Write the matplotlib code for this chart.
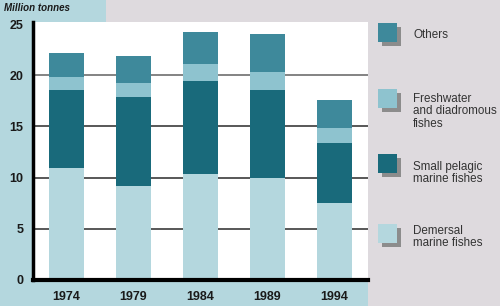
import numpy as np
import matplotlib.pyplot as plt
from matplotlib.patches import Rectangle

# --- DATA (million tonnes) ---
years = ["1974", "1979", "1984", "1989", "1994"]
demersal = [10.9, 9.2, 10.35, 10.0, 7.55]
pelagic = [7.7, 8.7, 9.1, 8.6, 5.85]
freshwater = [1.25, 1.3, 1.65, 1.7, 1.4]
others = [2.35, 2.7, 3.1, 3.7, 2.8]

series = [demersal, pelagic, freshwater, others]
labels = ["Demersal\nmarine fishes", "Small pelagic\nmarine fishes",
          "Freshwater\nand diadromous\nfishes", "Others"]
colors = ["#b4d7de", "#196a7b", "#8ec3cf", "#3e899b"]

light_blue = "#b4d7de"
grey_bg = "#dedade"

plt.rcParams['font.family'] = ['Liberation Sans', 'DejaVu Sans']

fig = plt.figure(figsize=(5.0, 3.06), dpi=100)
fig.patch.set_facecolor(grey_bg)

W, H = 500, 306
def fr(x0, y0, x1, y1, c, z=-1):
    # rectangle in pixel coords (origin top-left)
    fig.patches.append(Rectangle((x0 / W, 1 - y1 / H), (x1 - x0) / W, (y1 - y0) / H,
                                 transform=fig.transFigure, facecolor=c,
                                 edgecolor='none', zorder=z))

fr(0, 0, 106, 22, light_blue)
fr(0, 0, 33, 306, light_blue)
fr(0, 280, 368, 306, light_blue)

ax = fig.add_axes([33 / W, 1 - 280 / H, 335 / W, 258 / H])
ax.set_facecolor("white")

x = np.arange(len(years))
bottom = np.zeros(len(years))
for vals, c in zip(series, colors):
    ax.bar(x, vals, width=0.51, bottom=bottom, color=c, zorder=3)
    bottom += np.array(vals)

ax.set_xlim(-0.5, 4.5)
ax.set_ylim(0, 25.2)
ax.set_yticks([0, 5, 10, 15, 20, 25])
for yv in [5, 10, 15, 20]:
    ax.axhline(yv, color="#4a4a4a" if yv != 20 else "#7a7a7a", lw=1.3, zorder=1)

ax.set_xticks(x)
ax.set_xticklabels(years, fontsize=9, fontweight='bold', color="#1a1a1a")
ax.tick_params(axis='y', labelsize=9, length=0, pad=7, labelcolor="#1a1a1a")
ax.tick_params(axis='x', length=0, pad=8)
for t in ax.get_yticklabels():
    t.set_fontweight('bold')

for s in ['top', 'right']:
    ax.spines[s].set_visible(False)
ax.spines['left'].set_linewidth(2.5)
ax.spines['bottom'].set_linewidth(3)
ax.spines['left'].set_zorder(5)
ax.spines['bottom'].set_zorder(5)

fig.text(4 / W, 1 - 8 / H, "Million tonnes", fontsize=7, fontweight='bold',
         fontstyle='italic', va='center', ha='left', color="#1a1a1a")

# legend with shadowed squares
leg_y = [233, 163, 98, 32]  # square centres in pixels, same order as series
text_y = [231, 167, 99, 35]  # first text line centre
for yc, ty, c, lab in zip(leg_y, text_y, colors, labels):
    fr(382, yc - 5, 401, yc + 14, "#8c8c8c", 1)
    fr(378, yc - 9, 397, yc + 10, c, 1)
    for i, line in enumerate(lab.split("\n")):
        fig.text(413 / W, 1 - (ty + 12.5 * i) / H, line, fontsize=8.4,
                 va='center', ha='left', color="#333333")

fig.savefig("out.png", dpi=100, facecolor=fig.get_facecolor())
